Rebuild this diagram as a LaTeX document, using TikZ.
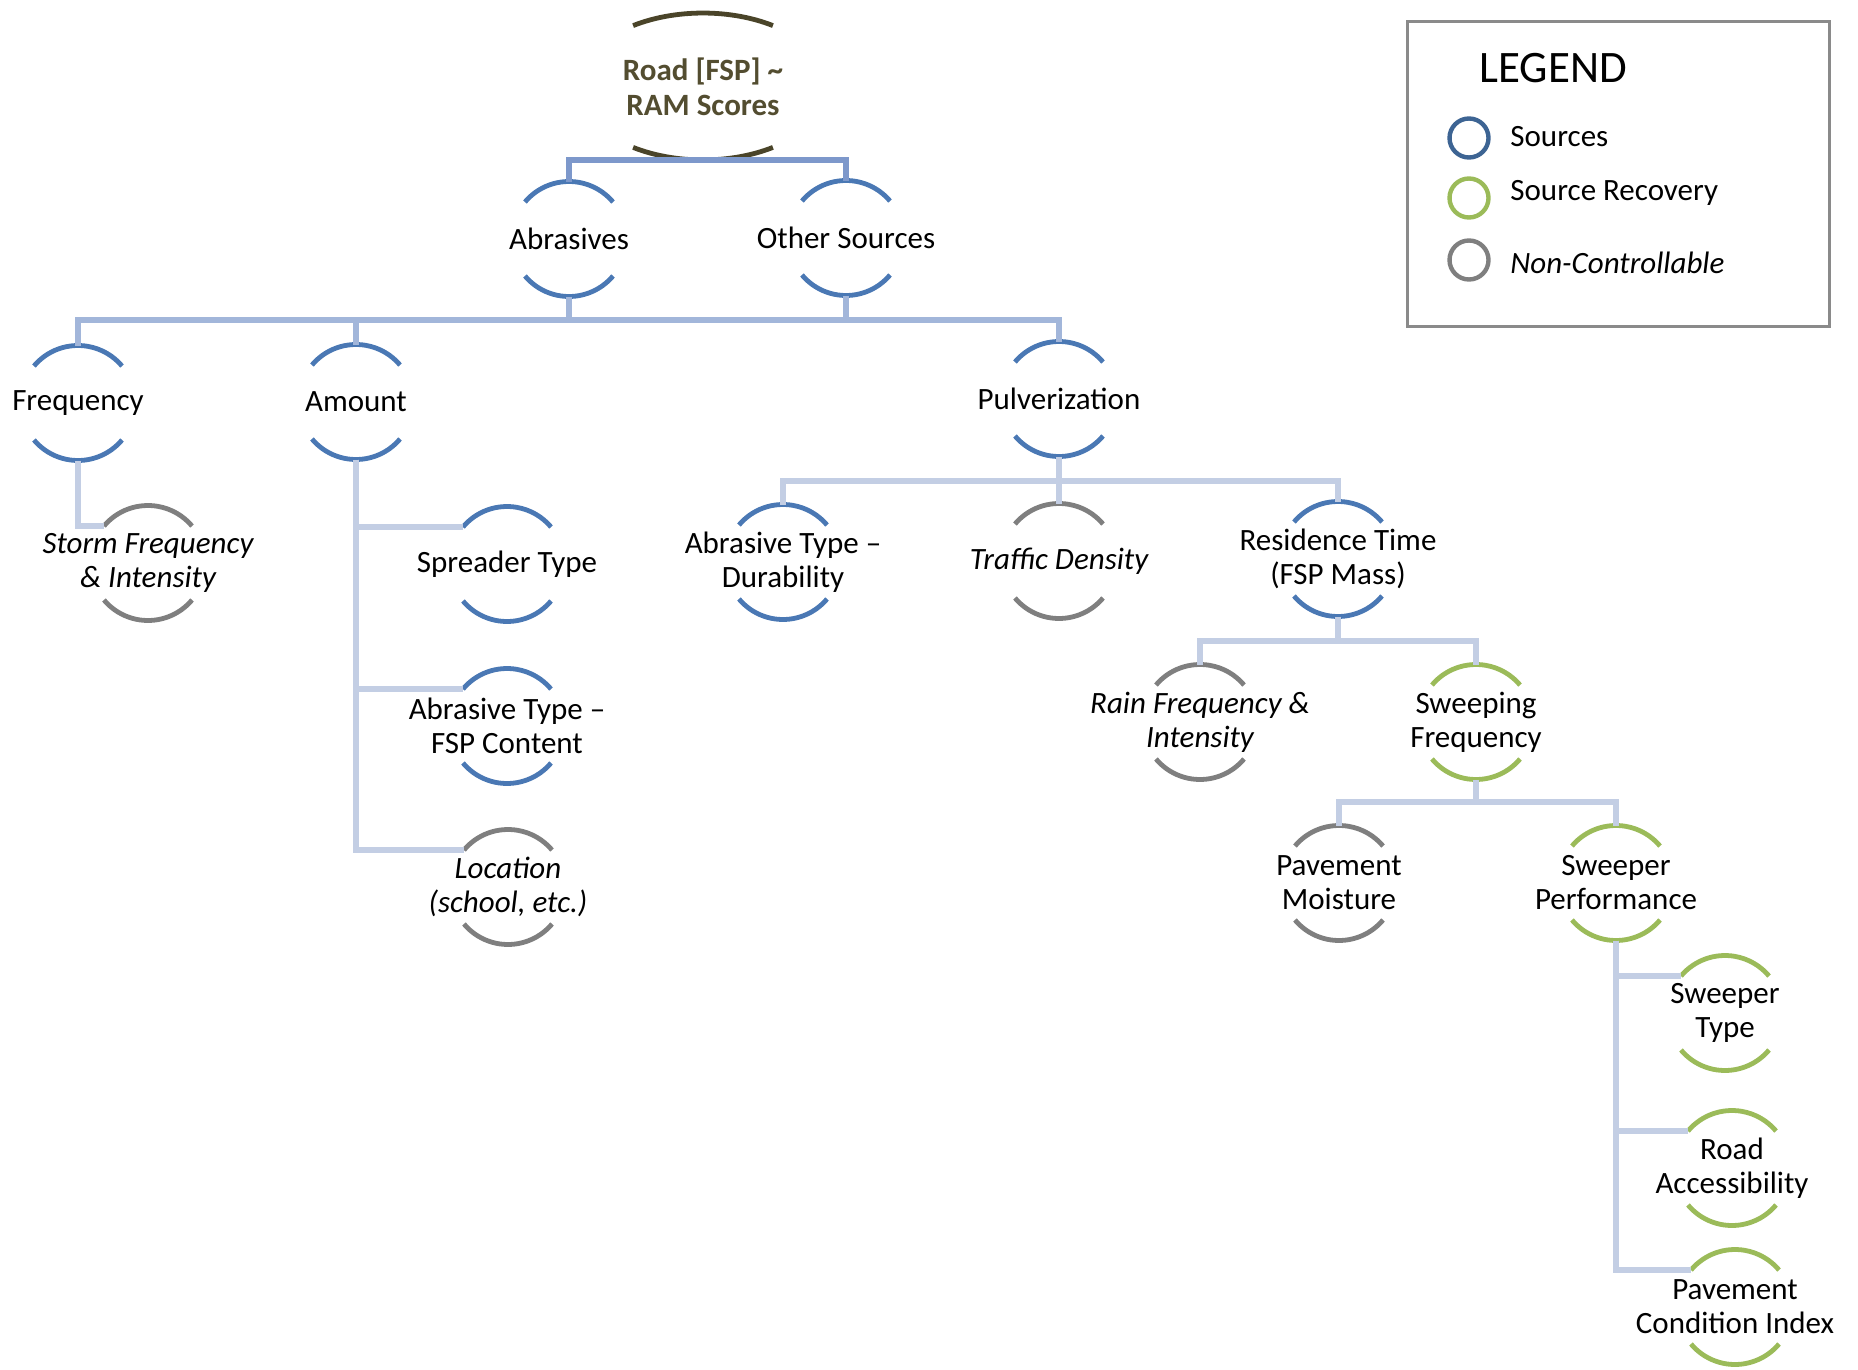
\documentclass[tikz,border=0pt]{standalone}
\usepackage{fontspec}
\setmainfont{Carlito}
\usetikzlibrary{shapes.geometric,calc}
\definecolor{bluearc}{HTML}{4A78B4}
\definecolor{greenarc}{HTML}{9BBB59}
\definecolor{grayarc}{HTML}{7F7F7F}
\definecolor{rootcol}{HTML}{4A4429}
\definecolor{roottxt}{HTML}{534D30}
\definecolor{conA}{HTML}{7D98CB}
\definecolor{conB}{HTML}{A2B6DA}
\definecolor{conC}{HTML}{C3CEE4}
\definecolor{legblue}{HTML}{3D6493}
\definecolor{legbox}{HTML}{8A8A8A}
\tikzset{
  bubnode/.style={circle,minimum size=57.5pt,inner sep=0pt,outer sep=0pt},
  txt/.style={align=center,inner sep=0pt,font=\fontsize{15.5}{17}\selectfont},
  it/.style={font=\fontsize{15.5}{17}\selectfont\itshape},
  arcline/.style={line width=2.4pt},
  conn/.style={line width=2.8pt},
  legcirc/.style={circle,minimum size=19.5pt,inner sep=0pt,line width=2.2pt},
  leglab/.style={anchor=base west,inner sep=0pt,font=\fontsize{15.5}{17}\selectfont}
}
\newcommand\bub[6]{%
  \node[bubnode] (#1) at (#2,-#3) {};
  \node[txt,#5] (#1-t) at (#1) {#6};
  \draw[arcline,#4] (#1.140) arc[start angle=140,end angle=40,radius=28.75pt];
  \draw[arcline,#4] (#1.220) arc[start angle=220,end angle=320,radius=28.75pt];
}
\begin{document}
\begin{tikzpicture}[x=0.5pt,y=0.5pt]
\useasboundingbox (0,0) rectangle (1858,-1370);

% root
\node[ellipse,minimum width=125pt,minimum height=73.5pt,inner sep=0pt,outer sep=0pt] (root) at (703,-86.5) {};
\node[txt,font=\fontsize{15.5}{17.5}\selectfont\bfseries,text=roottxt] (root-t) at (root) {Road [FSP] \textasciitilde\\RAM Scores};
\draw[arcline,rootcol] ($(root)+(-69.9,60.9)$) arc[start angle=124,end angle=56,x radius=62.5pt,y radius=36.75pt];
\draw[arcline,rootcol] ($(root)+(-69.9,-60.9)$) arc[start angle=236,end angle=304,x radius=62.5pt,y radius=36.75pt];

% bubbles
\bub{abr}{569}{239}{bluearc}{}{Abrasives}
\bub{oth}{846}{238}{bluearc}{}{Other Sources}
\bub{freq}{78}{403}{bluearc}{}{Frequency}
\bub{amt}{356}{402}{bluearc}{}{Amount}
\bub{pulv}{1059}{399}{bluearc}{}{Pulverization}
\bub{storm}{148}{563}{grayarc}{it}{Storm Frequency\\\& Intensity}
\bub{spr}{507}{564}{bluearc}{}{Spreader Type}
\bub{afsp}{507}{726}{bluearc}{}{Abrasive Type \textendash\\FSP Content}
\bub{loc}{508}{887}{grayarc}{it}{Location\\(school, etc.)}
\bub{dur}{783}{562}{bluearc}{}{Abrasive Type \textendash\\Durability}
\bub{traf}{1059}{561}{grayarc}{it}{Traffic Density}
\bub{res}{1338}{559}{bluearc}{}{Residence Time\\(FSP Mass)}
\bub{rain}{1200}{722}{grayarc}{it}{Rain Frequency \&\\Intensity}
\bub{swf}{1476}{722}{greenarc}{}{Sweeping\\Frequency}
\bub{pmo}{1339}{883}{grayarc}{}{Pavement\\Moisture}
\bub{swp}{1616}{883}{greenarc}{}{Sweeper\\Performance}
\bub{swt}{1725}{1013}{greenarc}{}{Sweeper\\Type}
\bub{racc}{1732}{1168}{greenarc}{}{Road\\Accessibility}
\bub{pci}{1735}{1307}{greenarc}{}{Pavement\\Condition Index}

% connectors
\coordinate (h2) at (0,-320);
\coordinate (h3) at (0,-481);
\coordinate (h4) at (0,-641);
\coordinate (h5) at (0,-802);

\draw[conn,conA] (abr.north) |- (root.south) -| (oth.north);

\draw[conn,conB] (freq.north) |- (pulv.north |- h2) -- (pulv.north);
\draw[conn,conB] (amt.north) -- (amt.north |- h2);
\draw[conn,conB] (abr.south) -- (abr.south |- h2);
\draw[conn,conB] (oth.south) -- (oth.south |- h2);

\draw[conn,conC] (freq.south) |- (storm.140);
\draw[conn,conC] (amt.south) |- (loc.140);
\draw[conn,conC] (amt.south) |- (afsp.140);
\draw[conn,conC] (amt.south) |- (spr.140);

\draw[conn,conC] (dur.north) |- (res.north |- h3) -- (res.north);
\draw[conn,conC] (pulv.south) -- (traf.north);

\draw[conn,conC] (rain.north) |- (swf.north |- h4) -- (swf.north);
\draw[conn,conC] (res.south) -- (res.south |- h4);

\draw[conn,conC] (pmo.north) |- (swp.north |- h5) -- (swp.north);
\draw[conn,conC] (swf.south) -- (swf.south |- h5);

\draw[conn,conC] (swp.south) |- (pci.140);
\draw[conn,conC] (swp.south) |- (racc.140);
\draw[conn,conC] (swp.south) |- (swt.140);

% legend
\node[draw=legbox,line width=1.3pt,minimum width=211pt,minimum height=152.5pt,anchor=north west,inner sep=0pt] (legend) at (1406,-20) {};
\node[anchor=base west,inner sep=0pt,font=\fontsize{22.5}{27}\selectfont] (legtitle) at (1479,-83) {LEGEND};
\node[legcirc,draw=legblue] (lc1) at (1469,-138) {};
\node[legcirc,draw=greenarc] (lc2) at (1469,-198) {};
\node[legcirc,draw=grayarc] (lc3) at (1469,-260) {};
\node[leglab] (ll1) at (1510,-147) {Sources};
\node[leglab] (ll2) at (1510,-200) {Source Recovery};
\node[leglab,font=\fontsize{15.5}{17}\selectfont\itshape] (ll3) at (1510,-273) {Non-Controllable};
\end{tikzpicture}
\end{document}
